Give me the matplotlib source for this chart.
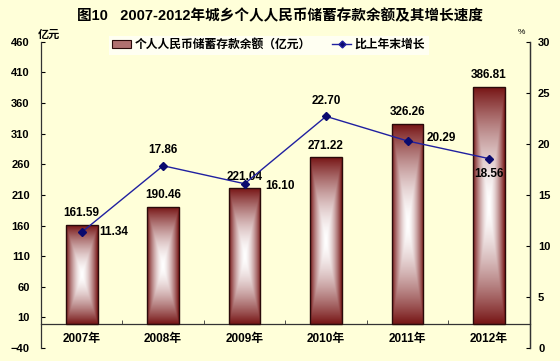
import numpy as np
import matplotlib
matplotlib.use('Agg')
import matplotlib.pyplot as plt
from matplotlib.patches import Patch
from matplotlib.lines import Line2D
from matplotlib.ticker import FixedLocator

plt.rcParams['font.family'] = ['Liberation Sans', 'Noto Sans CJK SC', 'DejaVu Sans']
plt.rcParams['font.weight'] = 'bold'

years = ['2007年', '2008年', '2009年', '2010年', '2011年', '2012年']
balance = [161.59, 190.46, 221.04, 271.22, 326.26, 386.81]
growth = [11.34, 17.86, 16.10, 22.70, 20.29, 18.56]
left_ticks = [-40, 10, 60, 110, 160, 210, 260, 310, 360, 410, 460]
right_ticks = [0, 5, 10, 15, 20, 25, 30]

# label offsets for the growth line (points)
growth_offsets = [(13, 0, 'left', 'center'), (0, 7, 'center', 'bottom'),
                  (15, -2, 'left', 'center'), (0, 7, 'center', 'bottom'),
                  (14, 2, 'left', 'center'), (0, -7, 'center', 'top')]

bg = '#ffffd9'
dark = np.array([0.47, 0.09, 0.09])

fig = plt.figure(figsize=(5.6, 3.61), dpi=100, facecolor=bg)
ax = fig.add_axes([0.073, 0.036, 0.873, 0.848])
ax.set_facecolor(bg)

x = np.arange(len(years))
bars = ax.bar(x, balance, width=0.39, color='none', edgecolor='#2a0a0a',
              linewidth=1.0, zorder=3)

# rectangular centre gradient, dark red edges to white centre
n = 120
u = np.linspace(-1, 1, n)
U, V = np.meshgrid(u, u)
t = np.maximum(np.abs(U), np.abs(V))
t = np.clip(t, 0, 1) ** 1.6
img = (1 - t)[..., None] * np.array([1.0, 1.0, 1.0]) + t[..., None] * dark
for b in bars:
    x0, y0 = b.get_x(), b.get_y()
    w, h = b.get_width(), b.get_height()
    im = ax.imshow(img, extent=[x0, x0 + w, y0, y0 + h], aspect='auto',
                   zorder=2, interpolation='bilinear')
    im.set_clip_path(b)

for xi, v in zip(x, balance):
    ax.annotate(f'{v:.2f}', (xi, v), xytext=(0, 4), textcoords='offset points',
                ha='center', va='bottom', fontsize=8.5)

ax.set_xlim(-0.5, len(years) - 0.5)
ax.set_ylim(-40, 460)
ax.yaxis.set_major_locator(FixedLocator(left_ticks))
ax.set_xticks(x)
ax.xaxis.set_minor_locator(FixedLocator(np.arange(0.5, len(years) - 1, 1.0)))
ax.tick_params(axis='x', which='major', length=0, pad=7, labelsize=8.5)
ax.tick_params(axis='x', which='minor', direction='in', length=3, color='#333333')
ax.tick_params(axis='y', direction='in', length=3, labelsize=8, pad=8)
ax.set_xticklabels(years)
ax.spines['bottom'].set_position(('data', 0))
ax.spines['top'].set_visible(False)
for s in ['left', 'right', 'bottom']:
    ax.spines[s].set_color('#333333')
    ax.spines[s].set_linewidth(0.9)

ax2 = ax.twinx()
ax2.plot(x, growth, color='#2020a0', linewidth=1.0, marker='D',
         markersize=4, markerfacecolor='#0a0a6e', markeredgecolor='#0a0a6e', zorder=5)
for xi, v, (dx, dy, ha, va) in zip(x, growth, growth_offsets):
    ax2.annotate(f'{v:.2f}', (xi, v), xytext=(dx, dy), textcoords='offset points',
                 ha=ha, va=va, fontsize=8.5)
ax2.set_ylim(0, 30)
ax2.yaxis.set_major_locator(FixedLocator(right_ticks))
ax2.tick_params(axis='y', direction='in', length=3, labelsize=8, pad=6)
ax2.spines['top'].set_visible(False)
ax2.spines['bottom'].set_visible(False)
ax2.spines['left'].set_visible(False)
ax2.spines['right'].set_color('#333333')
ax2.spines['right'].set_linewidth(0.9)

fig.text(0.5, 0.955, '图10   2007-2012年城乡个人人民币储蓄存款余额及其增长速度',
         ha='center', va='center', fontsize=10.5)
fig.text(0.068, 0.905, '亿元', ha='left', va='center', fontsize=8)
fig.text(0.925, 0.91, '%', ha='left', va='center', fontsize=6, fontweight='normal')

handles = [Patch(facecolor='#b07070', edgecolor='#2a0a0a', linewidth=0.8),
           Line2D([], [], color='#2020a0', marker='D', markersize=3.5,
                  markerfacecolor='#0a0a6e', linewidth=1.0)]
fig.legend(handles, ['个人人民币储蓄存款余额（亿元）', '比上年末增长'],
           loc='center', bbox_to_anchor=(0.48, 0.875), ncol=2, frameon=True,
           facecolor='#fffff2', edgecolor='none', fancybox=False, framealpha=1,
           prop={'weight': 'bold', 'size': 8.5}, handlelength=1.6,
           handletextpad=0.3, columnspacing=1.8, borderpad=0.3)

fig.savefig('out.png', dpi=100, facecolor=bg)
